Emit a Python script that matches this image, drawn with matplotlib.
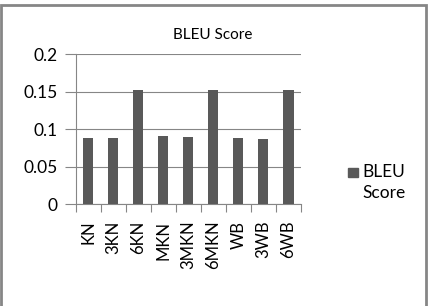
import numpy as np
import matplotlib.pyplot as plt
from matplotlib.patches import Rectangle

# data
models = ["KN", "3KN", "6KN", "MKN", "3MKN", "6MKN", "WB", "3WB", "6WB"]
bleu = [0.088, 0.088, 0.152, 0.091, 0.089, 0.152, 0.088, 0.087, 0.152]

plt.rcParams['font.family'] = ['Lato', 'DejaVu Sans']

fig = plt.figure(figsize=(4.35, 3.06), dpi=100)
ax = fig.add_axes([0.174, 0.333, 0.518, 0.49])

grey = "#868686"
bar_col = "#595959"
x = np.arange(len(models))
ax.bar(x, bleu, width=0.4, color=bar_col, zorder=3)

ax.set_xlim(-0.5, len(models) - 0.5)
ax.set_ylim(0, 0.2)
ax.set_yticks([0, 0.05, 0.1, 0.15, 0.2])
ax.set_yticklabels(["0", "0.05", "0.1", "0.15", "0.2"], fontsize=12.5)
ax.yaxis.grid(True, color=grey, lw=0.8, zorder=0)

# category boundary ticks like the original
ax.set_xticks(np.arange(len(models) + 1) - 0.5)
ax.set_xticklabels([])
ax.set_xticks(x, minor=True)
ax.set_xticklabels(models, minor=True, rotation=90, fontsize=12)
ax.tick_params(axis='x', which='major', length=6, color=grey, width=0.8)
ax.tick_params(axis='x', which='minor', length=0, pad=12)
ax.tick_params(axis='y', length=8, color=grey, width=0.8, pad=5)

for s in ["top", "right"]:
    ax.spines[s].set_visible(False)
for s in ["left", "bottom"]:
    ax.spines[s].set_color(grey)
    ax.spines[s].set_linewidth(0.8)

fig.text(0.49, 0.885, "BLEU Score", ha='center', va='center', fontsize=11)

# legend, drawn by hand so the key sits beside the first line
fig.patches.append(Rectangle((0.800, 0.421), 0.022, 0.031, transform=fig.transFigure,
                             color=bar_col))
fig.text(0.832, 0.437, "BLEU", ha='left', va='center', fontsize=12.5)
fig.text(0.832, 0.370, "Score", ha='left', va='center', fontsize=12.5)

# outer frame of the chart box
fig.patches.append(Rectangle((0.002, -0.05), 0.978, 1.035, transform=fig.transFigure,
                             fill=False, edgecolor=grey, lw=2))

fig.savefig("out.png", dpi=100)
